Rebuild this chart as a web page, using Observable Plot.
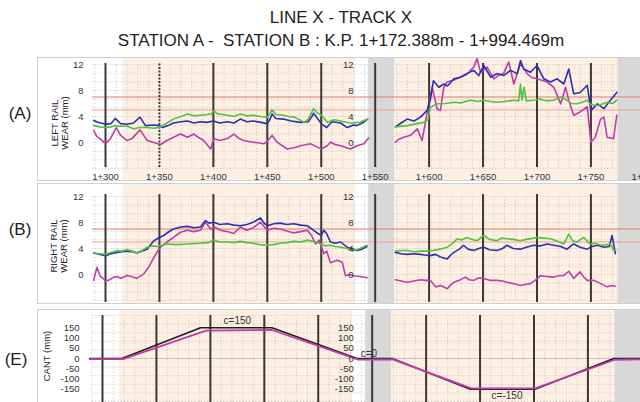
<!DOCTYPE html>
<html><head><meta charset="utf-8">
<script src="https://cdn.jsdelivr.net/npm/d3@7"></script>
<script src="https://cdn.jsdelivr.net/npm/@observablehq/plot@0.6"></script>
<style>
body{margin:0;background:#fff;font-family:"Liberation Sans",Arial,sans-serif;color:#222;}
#page{position:relative;width:640px;height:402px;overflow:hidden;background:#fff;}
.t{position:absolute;left:21px;width:640px;text-align:center;font-size:17px;line-height:20px;white-space:pre;}
.frame{position:absolute;left:37px;width:603px;border:1px solid #cfcfcf;border-right:none;pointer-events:none;z-index:2;}
.tag{position:absolute;width:40px;text-align:center;font-size:17px;line-height:20px;}
.ylab{position:absolute;width:90px;height:22px;text-align:center;font-size:9.5px;line-height:10px;transform:rotate(-90deg);white-space:nowrap;}
.svgwrap{position:absolute;left:0;}
</style></head>
<body><div id="page">
<div class="t" style="top:8px">LINE X - TRACK X</div>
<div class="t" style="top:31px">STATION A -  STATION B : K.P. 1+172.388m - 1+994.469m</div>
<div class="frame" style="top:57px;height:122px"></div>
<div class="frame" style="top:183px;height:119px"></div>
<div class="frame" style="top:309px;height:100px"></div>
<div class="tag" style="left:0;top:104px">(A)</div>
<div class="tag" style="left:0;top:220px">(B)</div>
<div class="tag" style="left:-4px;top:350px">(E)</div>
<div class="ylab" style="left:16px;top:112px">LEFT RAIL<br>WEAR (mm)</div>
<div class="ylab" style="left:15px;top:235px">RIGHT RAIL<br>WEAR (mm)</div>
<div class="ylab" style="left:2px;top:345px;line-height:22px">CANT (mm)</div>
</div>
<script>
// ---- categories / ticks ----
const xTicks = [300, 350, 400, 450, 500, 550, 600, 650, 700, 750, 800];
const xTickLabels = ["1+300","1+350","1+400","1+450","1+500","1+550","1+600","1+650","1+700","1+750","1+800"];
const rulersSolidA = [300, 400, 450, 500, 550, 600, 650, 700, 750];
const rulersDottedA = [350];
const rulersAll = [300, 350, 400, 450, 500, 550, 600, 650, 700, 750];
const gridX = [290,300,310,320,330,340,350,360,370,380,390,400,410,420,430,440,450,460,470,480,490,500,510,520,530,540,550,560,570,580,590,600,610,620,630,640,650,660,670,680,690,700,710,720,730,740,750,760,770,780,790];
const yTicksWear = [0, 4, 8, 12];
const gridYWear = [-4, -2.667, -1.333, 0, 1.333, 2.667, 4, 5.333, 6.667, 8, 9.333, 10.667, 12];
const limitHigh = [7];
const limitLow = [5];
const yTicksCant = [150, 100, 50, 0, -50, -100, -150];
const gridYCant = [-210, -168, -126, -84, -42, 42, 84, 126, 168, 210];
const zeroCant = [0];
// background zones (chainage, m)
const bgWhite = [[288, 316], [532, 544]];
const bgPeach = [[316, 532], [568, 775]];
const bgGray = [[544, 568], [775, 800]];

// ---- series: left rail wear (A) ----
const aBlueL = [[289,3.4],[293,3.1],[300,2.8],[305,2.9],[309,3.7],[314,2.9],[320,2.8],[326,3.0],[332,3.9],[337,2.6],[344,2.7],[350,2.6],[353,2.3],[358,2.6],[363,3.0],[370,3.2],[376,3.3],[382,3.0],[388,3.2],[394,3.1],[400,3.3],[406,3.0],[413,3.2],[419,3.0],[425,3.6],[431,3.2],[437,3.3],[444,3.1],[450,2.9],[452,3.4],[454.5,4.4],[458,3.7],[465,3.6],[472,3.3],[481,3.1],[488,3.2],[491,3.9],[493,4.5],[496,3.8],[500,2.9],[505,2.3],[510,3.2],[518,3.0],[524,2.3],[530,2.7],[533,2.6],[538,3.0],[543,3.6]];
const aGreenL = [[289,2.6],[295,2.4],[300,2.3],[305,2.4],[309,2.6],[314,2.5],[320,2.5],[326,2.1],[332,2.3],[339,2.3],[345,2.2],[351,2.4],[357,3.0],[363,3.6],[370,4.0],[376,4.4],[382,4.1],[388,4.2],[394,4.3],[398,4.4],[400.4,4.9],[404,4.4],[413,4.2],[419,4.0],[425,4.4],[431,4.1],[437,4.2],[444,4.0],[450,3.9],[454.5,5.0],[458,4.3],[465,4.2],[470,4.0],[475,3.9],[480,3.5],[484,3.1],[488,3.6],[493,5.2],[496,4.6],[500,4.2],[506,3.1],[512,3.5],[518,3.3],[527,3.0],[536,3.1],[543,3.6]];
const aMagentaL = [[289,1.85],[292,0.9],[295,0.6],[300,-0.2],[304.6,0.6],[310,2.3],[314,1.1],[320,0.3],[324.6,0.6],[332,1.95],[338.6,0.3],[344.8,0.0],[351,-0.3],[357,0.3],[363,0.8],[369.5,1.3],[376,0.8],[382,1.3],[386,0.8],[391,0.3],[397.5,-1.0],[400.4,0.6],[406,0.3],[413,0.6],[419,1.3],[424,0.6],[428,0.3],[437,0.05],[446.8,-0.2],[450,0.2],[454.5,1.1],[459,0.05],[464,-0.5],[468.4,-1.0],[475,-0.8],[481,-0.5],[490,-0.2],[495,-0.6],[500,-1.0],[505.5,-0.5],[508.6,0.05],[513,-0.3],[518,-0.5],[527,-1.0],[533,-0.5],[539.5,-0.2],[544,0.7]];
const aBlueR = [[568.8,2.4],[574,3.0],[579.7,3.6],[586,3.3],[592,3.9],[598,4.9],[601,6.5],[604,9.5],[609,8.5],[613.6,9.0],[617,8.7],[623,9.8],[629,10.05],[635,10.6],[641.4,11.1],[646,10.3],[650.7,11.85],[657,10.05],[663,10.6],[669,10.3],[675.5,11.1],[681.7,10.6],[684.7,12.6],[687.8,11.3],[694,10.8],[700,11.85],[706.3,9.8],[712.5,9.3],[718.7,9.8],[724.9,9.0],[729.5,11.3],[734,7.5],[740,7.7],[746.6,8.8],[750,4.9],[756,5.95],[762,5.2],[768,6.5],[774,7.7]];
const aGreenR = [[568.8,2.4],[579.7,2.6],[589,2.9],[595,3.1],[599,3.5],[601,5.4],[607.4,5.95],[615,6.0],[623,6.2],[630,6.1],[638,6.5],[645,6.3],[650.7,6.5],[657,6.3],[663,6.2],[670,6.3],[678.5,6.5],[683,6.4],[684.7,9.0],[686,6.5],[688,8.5],[690,6.4],[697,6.5],[703,6.7],[709,6.4],[715.6,6.5],[722,7.0],[727.9,6.5],[732,6.0],[737,5.95],[742,6.2],[746.6,6.5],[750,5.8],[756,5.7],[760,5.9],[765,6.2],[770,6.0],[774,6.5]];
const aMagentaR = [[568.8,0.05],[572,0.5],[576.5,0.8],[582.8,1.1],[589,2.1],[593.5,0.3],[598,4.4],[602.8,8.5],[607.4,5.2],[610.5,4.9],[613.6,8.5],[616.8,9.3],[623,9.6],[629,10.05],[635,10.5],[641.4,11.6],[644.5,12.9],[647.6,10.8],[653.8,11.6],[660,9.8],[665,10.4],[669,10.6],[673.8,12.4],[678.5,9.0],[684.7,12.1],[690.9,10.6],[695,10.0],[700,9.8],[709.4,9.3],[715.6,8.5],[722,5.95],[726.5,8.5],[729.5,6.5],[734,4.2],[740,4.7],[746.6,5.5],[750,0.05],[754,0.8],[759,3.6],[762,3.9],[765,0.8],[771,0.6],[774,4.2]];

// ---- series: right rail wear (B) ----
const bBlueL = [[289,3.3],[295,3.1],[300,2.9],[305,3.2],[311,3.4],[315,3.5],[320,3.6],[325,3.5],[329,3.3],[334,3.6],[338.6,3.9],[344.8,5.2],[350,5.7],[354,6.0],[358,6.5],[363,7.0],[370,7.3],[376,7.4],[382,7.2],[388,7.3],[392.7,8.3],[396,7.9],[400.4,8.05],[406,7.7],[413,7.8],[419,7.6],[425,7.5],[431,7.7],[437,8.05],[443.7,8.7],[447,7.9],[450,7.5],[456,7.8],[462,7.9],[468,7.7],[474.6,7.8],[481,7.6],[487,7.5],[493,6.8],[497,6.3],[500,6.0],[502.4,6.8],[505,6.3],[508.6,5.0],[513,4.8],[518,5.0],[524,4.2],[528,4.0],[533,3.7],[538,3.9],[542.5,4.3]];
const bGreenL = [[289,3.3],[295,3.2],[300,3.1],[305,3.4],[311,3.7],[315,3.6],[320,3.8],[325,3.6],[329,3.3],[334,3.7],[338.6,4.2],[343,4.4],[347.8,4.3],[352,4.5],[357,4.7],[366,4.6],[376,4.7],[388,4.8],[395,4.9],[400.4,5.3],[406,5.0],[413,5.0],[419,4.9],[425,5.1],[431,4.9],[437,4.8],[443,4.6],[450,4.5],[456,4.6],[462,4.8],[468,4.9],[474.6,5.1],[481,5.0],[487,5.3],[494.7,5.0],[500,4.7],[504,4.4],[508.6,4.5],[513,4.3],[518,4.2],[524,4.0],[530,3.7],[536,4.0],[542.5,4.5]];
const bMagentaL = [[289,-0.9],[292,1.1],[295,-0.2],[300,-1.0],[304,-0.8],[307.7,-0.4],[311,-0.3],[314,-0.6],[320,-0.15],[324,-0.3],[329,-0.6],[335.5,0.1],[340,1.1],[344.8,2.6],[348,3.5],[351,4.2],[357,5.0],[363,5.7],[369.5,6.5],[376,6.8],[382,6.6],[388,6.8],[392.7,8.05],[397.5,7.0],[401,7.3],[406.6,6.8],[413,6.6],[419,6.3],[425,7.3],[431,6.8],[437,7.2],[443.7,8.05],[450,6.8],[456,7.1],[462,7.0],[468,6.7],[474.6,6.4],[481,6.6],[487,6.8],[491,6.0],[494.7,4.7],[498,5.3],[502.4,3.2],[505,3.6],[508.6,1.8],[514.8,2.2],[519.5,1.9],[522.5,-0.2],[526,0.0],[530,-0.2],[536,-0.3],[542.5,-0.5]];
const bBlueR = [[568.8,3.4],[574,3.2],[579.7,3.1],[586,3.2],[592,3.1],[596,3.0],[601,2.9],[606,3.1],[610.5,2.7],[616.8,2.4],[620,3.0],[623,3.4],[628,3.9],[632,4.5],[636,3.9],[641.4,3.7],[646,4.0],[650.7,4.2],[656,3.8],[663,3.7],[668,4.0],[672.3,4.5],[678,4.0],[684.7,3.9],[690,4.2],[697,4.5],[703,4.4],[709.4,4.7],[715.6,4.5],[722,4.3],[727.9,3.9],[734,4.7],[740,4.2],[746.6,3.9],[751,4.3],[756,4.5],[762,4.2],[767,4.3],[769.6,6.0],[772.7,3.2]];
const bGreenR = [[568.8,3.6],[575,3.7],[580,3.7],[586,3.5],[592,3.6],[598,3.6],[604,3.7],[610,3.9],[616.8,4.2],[622,4.8],[626,5.5],[630,5.3],[635,5.7],[640,5.4],[644.5,5.2],[650.7,6.0],[656,5.4],[663,5.2],[667,5.6],[672.3,5.5],[678,5.4],[684.7,5.2],[690,5.4],[700,5.7],[706,5.6],[712.5,5.5],[718,5.2],[724.9,4.7],[729.5,6.2],[733,5.2],[737,5.0],[743.4,5.7],[749,4.7],[754,4.8],[759,4.5],[765,4.6],[768,4.7],[771,3.7],[773,3.8]];
const bMagentaR = [[568.8,-0.8],[574,-1.0],[579.7,-1.2],[586,-1.0],[592,-0.8],[597,-0.9],[601,-0.9],[606,-1.9],[611,-1.7],[616.8,-2.2],[620,-1.6],[623,-1.2],[628,-0.9],[633.7,-0.4],[637,-0.8],[641.4,-0.9],[646,-0.5],[650.7,-0.6],[656,-0.9],[663,-0.9],[668,-1.0],[672.3,-1.2],[678,-1.4],[684.7,-1.7],[690,-1.5],[694,-1.4],[699,-0.8],[703,-0.2],[709,-0.3],[715.6,-0.4],[720,-0.2],[724.9,-0.15],[729.5,0.5],[734,-0.6],[740,0.4],[743,-0.3],[746.6,-0.9],[752.7,-0.9],[759,-1.4],[765,-1.9],[769,-1.7],[772.7,-1.8]];

// ---- series: cant (E) ----
const cantDesign = [[288,0],[318,0],[391,150],[457,150],[536,0],[568.6,0],[641,-150],[701,-150],[774,0],[800,0]];
const cantMeasured = [[288,-3],[319,-3],[396,136],[457,139],[537,-5],[569,-4],[642,-146],[701,-146],[775,-6],[800,-4]];
const cantLabels = [{x: 425, y: 185, text: "c=150"}, {x: 547, y: 24, text: "c=0"}, {x: 675, y: -182, text: "c=-150"}];

// ---- drawing ----
const BLUE = "#2c30ad", GREEN = "#52c23e", MAGENTA = "#c23ca9";
const PEACH = "#fdf0e3", GRAY = "#d8d8d8", GRID = "#bfbfbf", RULER = "#383838";
const page = document.getElementById("page");
const style = {fontFamily: "'Liberation Sans', Arial, sans-serif", background: "transparent", overflow: "visible", color: "#333"};
const P = d => d[0], V = d => d[1];

function place(top, svg) {
  const w = document.createElement("div");
  w.className = "svgwrap";
  w.style.top = top + "px";
  w.appendChild(svg);
  page.appendChild(w);
}

function backdrop(yLo, yHi, gridY) {
  return [
    Plot.rect(bgWhite, {x1: d => d[0], x2: d => d[1], fill: "#ffffff"}),
    Plot.rect(bgPeach, {x1: d => d[0], x2: d => d[1], fill: PEACH}),
    Plot.ruleX(gridX, {y1: yLo, y2: yHi, stroke: GRID, strokeWidth: 0.8, strokeDasharray: "1.2,2"}),
    Plot.ruleY(gridY, {stroke: GRID, strokeWidth: 0.8, strokeDasharray: "1.2,2"}),
    Plot.rect(bgGray, {x1: d => d[0], x2: d => d[1], fill: GRAY})
  ];
}

function wearPanel(top, height, yRange, rulerY, series, withXLabels, dottedRuler) {
  const marks = [
    ...backdrop(-4, 12, gridYWear),
    Plot.ruleY(limitHigh, {stroke: "#df7c6c", strokeWidth: 1}),
    Plot.ruleY(limitLow, {stroke: "#e9a596", strokeWidth: 1}),
    Plot.ruleX(dottedRuler ? rulersSolidA : rulersAll, {y1: rulerY[0], y2: rulerY[1], stroke: RULER, strokeWidth: 2}),
  ];
  if (dottedRuler) marks.push(Plot.ruleX(rulersDottedA, {y1: rulerY[0], y2: rulerY[1], stroke: RULER, strokeWidth: 2, strokeDasharray: "2,1.5"}));
  for (const [data, color] of series) marks.push(Plot.line(data, {x: P, y: V, stroke: color, strokeWidth: 1.6}));
  marks.push(Plot.text(yTicksWear, {x: 288, y: d => d, text: d => String(d), textAnchor: "end", dx: -9, fontSize: 9.5, fill: "#333"}));
  marks.push(Plot.text(yTicksWear, {x: 530, y: d => d, text: d => String(d), textAnchor: "end", fontSize: 9.5, fill: "#333"}));
  if (withXLabels) marks.push(Plot.text(xTicks, {x: d => d, y: -5.25, text: (d, i) => xTickLabels[i], fontSize: 9.5, fill: "#333"}));
  return Plot.plot({
    width: 640, height, marginLeft: 92, marginRight: 0, marginTop: 0, marginBottom: 0,
    style,
    x: {domain: [300, 800], range: [105, 644.35], axis: null},
    y: {domain: [0, 12], range: yRange, axis: null},
    marks
  });
}

place(57, wearPanel(57 + 0, 123, [85, 7], [-3.85, 12.15],
  [[aMagentaL, MAGENTA], [aMagentaR, MAGENTA], [aBlueL, BLUE], [aBlueR, BLUE], [aGreenL, GREEN], [aGreenR, GREEN]], true, true));
place(183, wearPanel(183, 120, [91, 13], [-4.3, 12.3],
  [[bMagentaL, MAGENTA], [bMagentaR, MAGENTA], [bBlueL, BLUE], [bBlueR, BLUE], [bGreenL, GREEN], [bGreenR, GREEN]], false, false));

place(309, Plot.plot({
  width: 640, height: 93, marginLeft: 92, marginRight: 0, marginTop: 0, marginBottom: 0,
  style,
  x: {domain: [300, 800], range: [102, 641.35], axis: null},
  y: {domain: [-150, 150], range: [79.75, 18.25], axis: null},
  marks: [
    ...backdrop(-260, 210, gridYCant),
    Plot.ruleY(zeroCant, {stroke: "#c4c4c4", strokeWidth: 1}),
    Plot.ruleX(rulersAll, {y1: -260, y2: 210, stroke: RULER, strokeWidth: 2}),
    Plot.line(cantDesign, {x: P, y: V, stroke: "#1e1e1e", strokeWidth: 1.6}),
    Plot.line(cantMeasured, {x: P, y: V, stroke: MAGENTA, strokeWidth: 1.8}),
    Plot.text(cantLabels, {x: "x", y: "y", text: "text", fontSize: 10, fill: "#333"}),
    Plot.text(yTicksCant, {x: 288, y: d => d, text: d => String(d), textAnchor: "end", dx: -10, fontSize: 9.5, fill: "#333"}),
    Plot.text(yTicksCant, {x: 533, y: d => d, text: d => String(d), textAnchor: "end", fontSize: 9.5, fill: "#333"})
  ]
}));
</script>
</body></html>
